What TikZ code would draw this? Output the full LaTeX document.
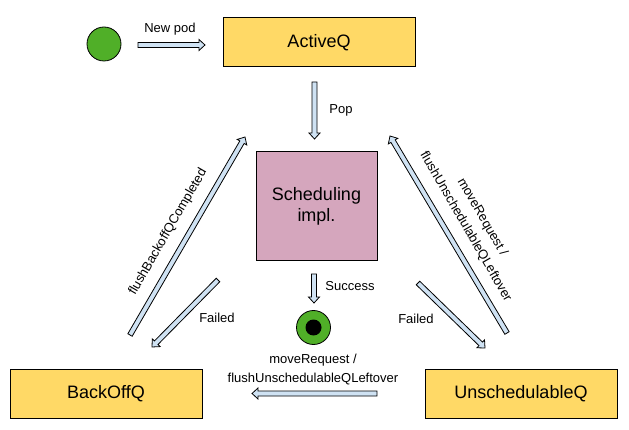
\documentclass[tikz,border=0pt]{standalone}
\usepackage{fontspec}
\setmainfont{Liberation Sans}
\usetikzlibrary{calc,positioning}
\definecolor{queuefill}{HTML}{FFD966}
\definecolor{implfill}{HTML}{D5A6BD}
\definecolor{podfill}{HTML}{50AF28}
\definecolor{pilfill}{HTML}{CFE2F3}
\tikzset{
    %Define style for queue boxes
    queue/.style={
           rectangle,
           draw=black,
           line width=1pt,
           fill=queuefill,
           minimum width=192pt,
           minimum height=49pt,
           font=\fontsize{18}{21}\selectfont},
    %Define style for the scheduler box
    algo/.style={
           rectangle,
           draw=black,
           line width=1pt,
           fill=implfill,
           minimum width=121pt,
           minimum height=109pt,
           align=center,
           font=\fontsize{18}{21}\selectfont},
    %Define style for pod dots
    pod/.style={
           circle,
           draw=black,
           line width=0.8pt,
           fill=podfill,
           minimum size=34pt,
           inner sep=0pt},
    %Define style for arrow texts
    note/.style={
           inner sep=0pt,
           align=center,
           font=\fontsize{13}{19}\selectfont},
    % Define block arrow style
    pil/.style={
           draw=black,
           line width=0.8pt,
           fill=pilfill,
           line join=miter}
}
% block arrow from one coordinate to another
\newcommand{\blockarrow}[2]{%
  \draw[pil] ($(#1)!2.5pt!90:(#2)$)
    -- ($(#2)!6pt!(#1)!2.5pt!90:(#2)$)
    -- ($(#2)!6pt!(#1)!5.5pt!90:(#2)$)
    -- (#2)
    -- ($(#2)!6pt!(#1)!5.5pt!-90:(#2)$)
    -- ($(#2)!6pt!(#1)!2.5pt!-90:(#2)$)
    -- ($(#1)!2.5pt!-90:(#2)$) -- cycle;}

\begin{document}
\begin{tikzpicture}[x=1pt,y=-1pt]
  \useasboundingbox (0,0) rectangle (629,430);
  \node[queue] (active) at (319,42.5) {ActiveQ};
  \node[queue] (backoff) at (106,393.5) {BackOffQ};
  \node[queue] (unsched) at (521,394) {UnschedulableQ};
  \node[algo] (sched) at (316.5,206.5) {Scheduling\\impl.};
  \node[pod] (start) at (104,44) {};
  \node[pod] (done) at (313.5,327.5) {};
  \fill[black] (done) circle (8pt);

  \coordinate (np1) at (138,45);   \coordinate (np2) at (205,45);
  \coordinate (pop1) at (314.5,82); \coordinate (pop2) at (314.5,139);
  \coordinate (suc1) at (314,274); \coordinate (suc2) at (314,303);
  \coordinate (bo1) at (130,335);  \coordinate (bo2) at (245,137);
  \coordinate (fl1) at (218,280);  \coordinate (fl2) at (152,347);
  \coordinate (mr1) at (507,333);  \coordinate (mr2) at (390,136);
  \coordinate (fr1) at (418,283);  \coordinate (fr2) at (485,348);
  \coordinate (bt1) at (377,393.5); \coordinate (bt2) at (252,393.5);

  \blockarrow{np1}{np2}
  \blockarrow{pop1}{pop2}
  \blockarrow{suc1}{suc2}
  \blockarrow{bo1}{bo2}
  \blockarrow{fl1}{fl2}
  \blockarrow{mr1}{mr2}
  \blockarrow{fr1}{fr2}
  \blockarrow{bt1}{bt2}

  \node[note] (newpod) at (170,29) {New pod};
  \node[note] (pop) at (341,110) {Pop};
  \node[note] (success) at (350,286) {Success};
  \node[note] (failedl) at (217,318) {Failed};
  \node[note] (failedr) at (416,319) {Failed};
  \node[note, rotate=60] (flushbo) at (168,232) {flushBackoffQCompleted};
  \node[note, rotate=-60] (moveup) at (474,222) {moveRequest /\\flushUnschedulableQLeftover};
  \node[note] (moveleft) at (313,369.5) {moveRequest /\\flushUnschedulableQLeftover};
\end{tikzpicture}
\end{document}
